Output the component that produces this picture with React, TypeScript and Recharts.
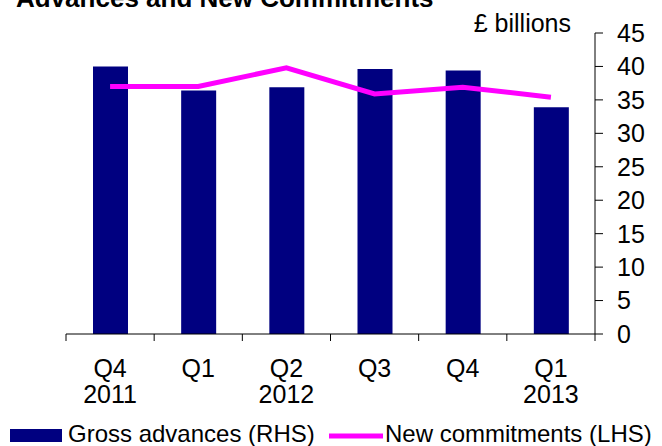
import React from 'react'
import { ComposedChart, Bar, Line, XAxis, YAxis, Legend } from 'recharts'

const quarters = ['Q4', 'Q1', 'Q2', 'Q3', 'Q4', 'Q1']
const years = ['2011', '', '2012', '', '', '2013']
const grossAdvances = [40.0, 36.4, 36.9, 39.6, 39.4, 33.9]
const newCommitments = [37.0, 37.0, 39.8, 35.9, 36.9, 35.4]
const yTicks = [0, 5, 10, 15, 20, 25, 30, 35, 40, 45]

const data = quarters.map((q, i) => ({
  label: q,
  year: years[i],
  gross: grossAdvances[i],
  commitments: newCommitments[i],
}))

const FONT = '"Liberation Sans", Arial, sans-serif'
const NAVY = '#000080'
const MAGENTA = '#FF00FF'
const PLOT_LEFT = 66
const PLOT_RIGHT = 595
const BAND = (PLOT_RIGHT - PLOT_LEFT) / quarters.length

function QuarterTick(props: any) {
  const { x, y, payload, index } = props
  const half = BAND / 2
  return (
    <g>
      <line x1={x - half} x2={x - half} y1={y - 7} y2={y} stroke="#000" />
      {index === quarters.length - 1 && (
        <line x1={x + half} x2={x + half} y1={y - 7} y2={y} stroke="#000" />
      )}
      <text x={x} y={y + 36} textAnchor="middle" fontSize={25} fill="#000" fontFamily={FONT}>
        {payload.value}
      </text>
      <text x={x} y={y + 62} textAnchor="middle" fontSize={25} fill="#000" fontFamily={FONT}>
        {years[index]}
      </text>
    </g>
  )
}

function ChartLegend() {
  return (
    <svg width={662} height={28} style={{ display: 'block' }}>
      <rect x={10} y={11} width={52} height={13} fill={NAVY} />
      <text x={68} y={24} fontSize={24} fill="#000" fontFamily={FONT}>Gross advances (RHS)</text>
      <line x1={329} x2={383} y1={18} y2={18} stroke={MAGENTA} strokeWidth={5} />
      <text x={385} y={24} fontSize={24} fill="#000" fontFamily={FONT}>New commitments (LHS)</text>
    </svg>
  )
}

export default function App() {
  return (
    <div style={{ position: 'absolute', left: 0, top: 0, width: 662, height: 446, background: '#fff', fontFamily: FONT }}>
      <ComposedChart width={662} height={446} data={data} margin={{ top: 33, right: 0, left: PLOT_LEFT, bottom: 0 }}>
        <XAxis
          dataKey="label"
          height={84}
          tickLine={false}
          tickSize={7}
          tickMargin={0}
          axisLine={{ stroke: '#000' }}
          tick={<QuarterTick />}
          interval={0}
        />
        <YAxis
          orientation="right"
          width={67}
          domain={[0, 45]}
          ticks={yTicks}
          interval={0}
          tickSize={8}
          tickMargin={14}
          axisLine={{ stroke: '#000' }}
          tickLine={{ stroke: '#000' }}
          tick={{ fontSize: 25, fill: '#000', fontFamily: FONT, textAnchor: 'start' }}
        />
        <Legend
          verticalAlign="bottom"
          content={<ChartLegend />}
          wrapperStyle={{ left: 0, width: 662, bottom: 0 }}
        />
        <Bar dataKey="gross" fill={NAVY} barSize={35} isAnimationActive={false} />
        <Line
          dataKey="commitments"
          type="linear"
          stroke={MAGENTA}
          strokeWidth={5}
          dot={false}
          isAnimationActive={false}
        />
      </ComposedChart>
      <svg width={662} height={446} style={{ position: 'absolute', left: 0, top: 0, pointerEvents: 'none' }}>
        <text x={16} y={7} fontSize={26} fontWeight="bold" fill="#000" fontFamily={FONT}>
          Advances and New Commitments
        </text>
        <text x={571} y={32} fontSize={25} textAnchor="end" fill="#000" fontFamily={FONT}>
          £ billions
        </text>
      </svg>
    </div>
  )
}
